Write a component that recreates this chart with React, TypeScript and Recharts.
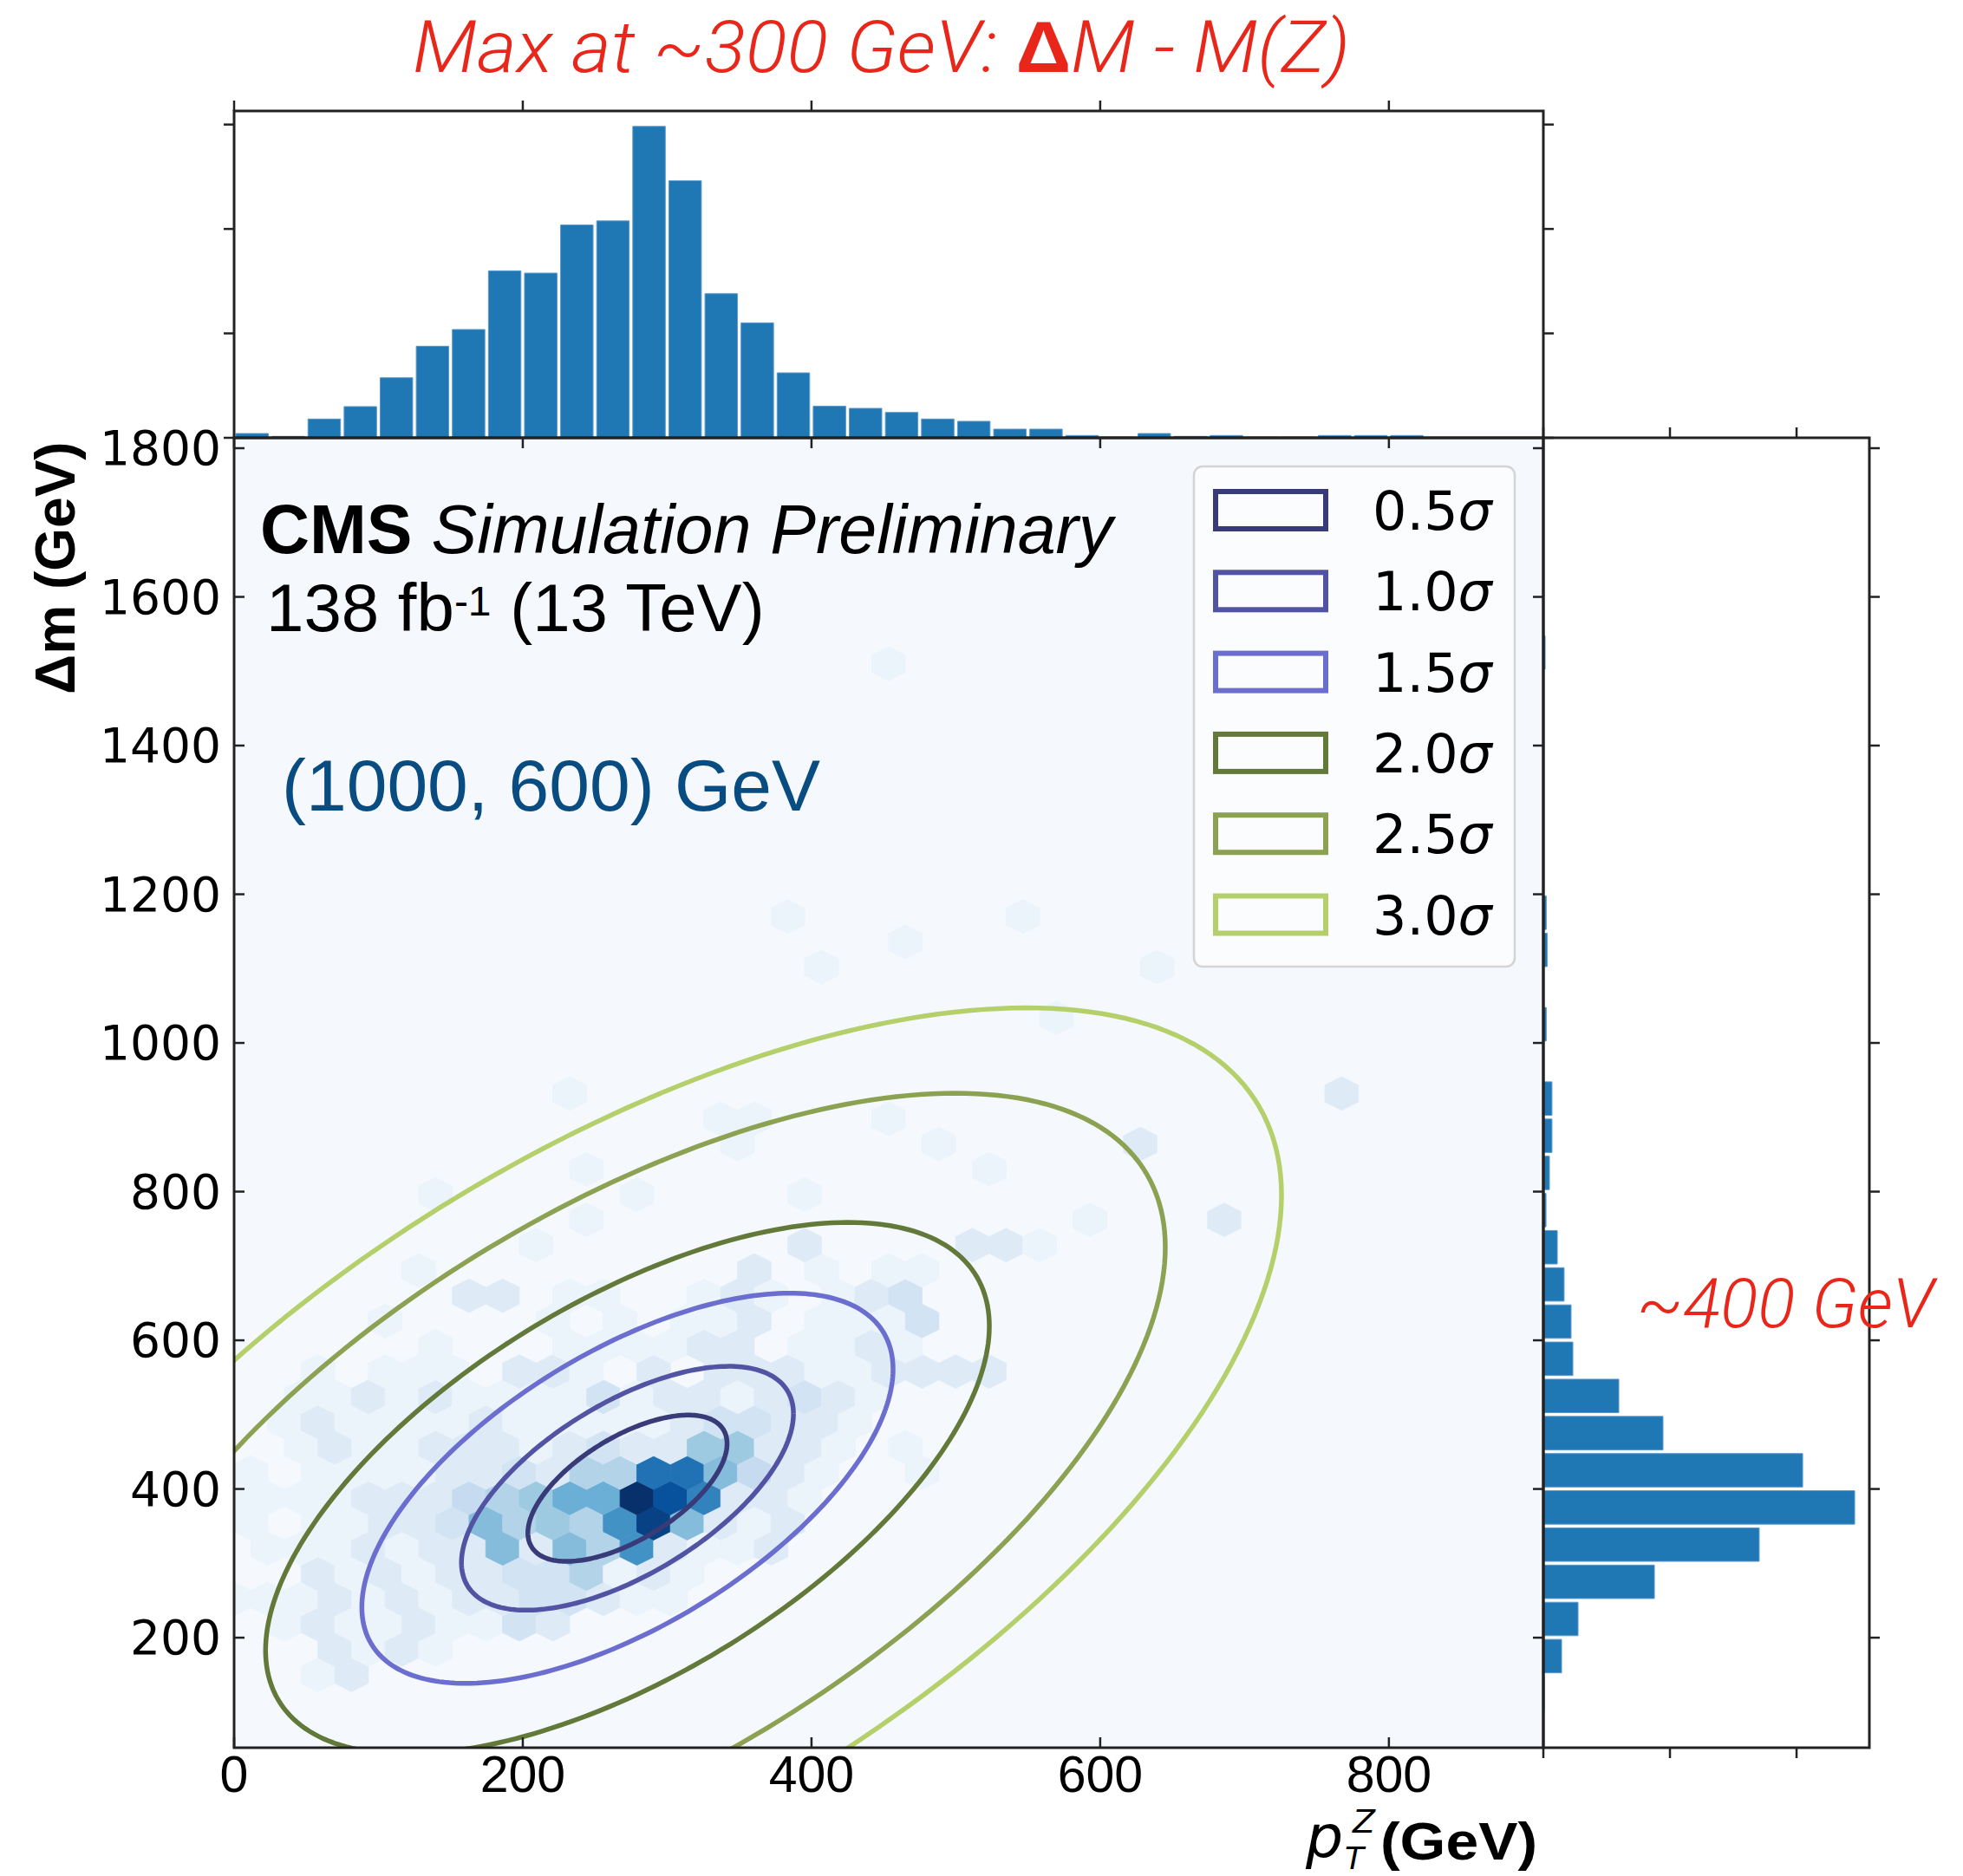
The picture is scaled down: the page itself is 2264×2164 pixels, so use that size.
import React from 'react';
import { ScatterChart, Scatter, BarChart, Bar, XAxis, YAxis, CartesianGrid } from 'recharts';

const W = 2264;
const H = 2164;

// joint axes: pT of the Z (x) and Δm (y), both in GeV
const X_MIN = 0;
const X_MAX = 907;
const X_TICKS = [0, 200, 400, 600, 800];
const Y_MIN = 52;
const Y_MAX = 1814;
const Y_TICKS = [200, 400, 600, 800, 1000, 1200, 1400, 1600, 1800];

// marginal pT histogram, 25 GeV bins starting at 0
const TOP_BIN = 25;
const TOP_COUNTS = [
  4.1, 1.4, 18, 29.9, 57.5, 87.7, 103.7, 159.9, 157.7, 203.9, 207.7, 298.2, 246.2, 138, 110.1, 62.2,
  30.2, 28.2, 24.3, 18, 15.8, 8.3, 8.3, 2.2, 0.6, 4.1, 1.4, 2.2, 0.6, 0.6, 2.2, 2.2, 2.2,
];
const TOP_MAX = 313;
const TOP_TICKS = [0, 100, 200, 300];

// marginal Δm histogram, 50 GeV bins starting at 100
const SIDE_BIN = 50;
const SIDE_START = 100;
const SIDE_COUNTS = [
  0.7, 14.4, 27.4, 87.7, 170.5, 245.9, 204.8, 94.5, 59.6, 23.3, 21.9, 16.4, 11, 2.1, 4.8, 6.8,
  6.8, 0, 2.3, 0, 3, 2.3, 0, 0, 0, 0, 0, 0, 1.4,
];
const SIDE_MAX = 257.5;
const SIDE_TICKS = [0, 100, 200];

// hexbin lattice (odd rows shifted by half a column) and filled cells: [row, col, count]
const HEX_X0 = 0;
const HEX_DX = 23.25;
const HEX_Y0 = 48;
const HEX_DY = 34;
const HEX_MAX = 16;
const HEX_CELLS: [number, number, number][] = [
  [3, 2, 1], [3, 3, 2],
  [4, 3, 2], [4, 4, 1], [4, 5, 2], [4, 6, 1],
  [5, 1, 1], [5, 2, 2], [5, 3, 1], [5, 4, 1], [5, 5, 2], [5, 6, 1], [5, 7, 1], [5, 8, 3], [5, 9, 2],
  [6, 0, 1], [6, 1, 1], [6, 2, 1], [6, 3, 2], [6, 4, 1], [6, 5, 2], [6, 6, 1], [6, 7, 2], [6, 8, 2],
  [6, 9, 3], [6, 10, 3], [6, 11, 2], [6, 12, 1], [6, 13, 1],
  [7, 2, 2], [7, 3, 1], [7, 4, 2], [7, 5, 1], [7, 6, 2], [7, 7, 2], [7, 8, 3], [7, 9, 3], [7, 10, 5],
  [7, 11, 1], [7, 12, 2], [7, 13, 1],
  [8, 1, 1], [8, 2, 1], [8, 3, 1], [8, 4, 2], [8, 5, 1], [8, 6, 2], [8, 7, 2], [8, 8, 7], [8, 9, 2],
  [8, 10, 7], [8, 11, 5], [8, 12, 10], [8, 13, 2], [8, 14, 1], [8, 15, 1], [8, 16, 2],
  [9, 0, 1], [9, 2, 1], [9, 3, 1], [9, 4, 2], [9, 5, 2], [9, 6, 3], [9, 7, 7], [9, 8, 5], [9, 9, 6],
  [9, 10, 5], [9, 11, 10], [9, 12, 15], [9, 13, 7], [9, 14, 2], [9, 15, 1], [9, 16, 2],
  [10, 0, 1], [10, 1, 1], [10, 2, 1], [10, 3, 1], [10, 4, 2], [10, 5, 2], [10, 6, 2], [10, 7, 4],
  [10, 8, 5], [10, 9, 6], [10, 10, 8], [10, 11, 8], [10, 12, 16], [10, 13, 14], [10, 14, 11],
  [10, 15, 2], [10, 16, 2], [10, 17, 1],
  [11, 0, 1], [11, 2, 1], [11, 3, 1], [11, 4, 1], [11, 5, 1], [11, 6, 2], [11, 7, 2], [11, 8, 3],
  [11, 9, 2], [11, 10, 5], [11, 11, 5], [11, 12, 12], [11, 13, 12], [11, 14, 7], [11, 15, 4],
  [11, 16, 2], [11, 17, 1], [11, 20, 1],
  [12, 2, 1], [12, 3, 2], [12, 4, 1], [12, 5, 1], [12, 6, 2], [12, 7, 2], [12, 8, 2], [12, 9, 1],
  [12, 10, 2], [12, 11, 3], [12, 12, 2], [12, 13, 2], [12, 14, 6], [12, 15, 6], [12, 16, 2],
  [12, 17, 2], [12, 18, 1], [12, 20, 1],
  [13, 1, 1], [13, 2, 2], [13, 3, 1], [13, 4, 1], [13, 5, 1], [13, 6, 1], [13, 7, 2], [13, 8, 1],
  [13, 9, 1], [13, 10, 1], [13, 11, 1], [13, 12, 1], [13, 13, 2], [13, 14, 3], [13, 15, 3],
  [13, 16, 2], [13, 17, 2], [13, 18, 1],
  [14, 2, 1], [14, 3, 1], [14, 4, 2], [14, 5, 1], [14, 6, 2], [14, 7, 1], [14, 8, 1], [14, 9, 1],
  [14, 10, 1], [14, 11, 3], [14, 12, 1], [14, 13, 2], [14, 14, 2], [14, 15, 1], [14, 16, 2],
  [14, 17, 3], [14, 18, 2], [14, 19, 1],
  [15, 2, 1], [15, 4, 1], [15, 5, 1], [15, 6, 1], [15, 8, 2], [15, 9, 2], [15, 10, 1], [15, 12, 2],
  [15, 14, 2], [15, 15, 2], [15, 16, 2], [15, 17, 1], [15, 18, 1], [15, 19, 2], [15, 20, 2],
  [15, 21, 2], [15, 22, 2],
  [16, 6, 1], [16, 10, 1], [16, 11, 1], [16, 12, 1], [16, 13, 1], [16, 14, 2], [16, 15, 2],
  [16, 17, 1], [16, 18, 1], [16, 19, 2], [16, 20, 1],
  [17, 4, 1], [17, 9, 1], [17, 11, 1], [17, 13, 1], [17, 14, 1], [17, 15, 2], [17, 17, 1],
  [17, 18, 1], [17, 19, 1], [17, 20, 3],
  [18, 7, 2], [18, 8, 2], [18, 10, 1], [18, 11, 1], [18, 14, 1], [18, 15, 2], [18, 16, 1],
  [18, 18, 1], [18, 19, 2], [18, 20, 3],
  [19, 5, 1], [19, 15, 2], [19, 17, 1], [19, 19, 1], [19, 20, 1],
  [20, 9, 1], [20, 17, 2], [20, 22, 2], [20, 23, 2], [20, 24, 1],
  [21, 10, 1], [21, 25, 1], [21, 29, 2],
  [22, 6, 1], [22, 12, 1], [22, 17, 1],
  [23, 10, 1], [23, 22, 1],
  [24, 15, 1], [24, 21, 1], [24, 27, 2],
  [25, 14, 1], [25, 15, 1], [25, 19, 1],
  [26, 10, 1], [26, 33, 2],
  [29, 24, 1],
  [31, 17, 1], [31, 27, 1],
  [32, 20, 1],
  [33, 16, 1], [33, 23, 1],
  [43, 19, 1],
];

// 2D gaussian fit and its contour levels
const FIT_MEAN = [272.5, 401];
const FIT_SIGMA = [115, 164];
const FIT_RHO = 0.61;
const CONTOUR_LABELS = ['0.5', '1.0', '1.5', '2.0', '2.5', '3.0'];
const CONTOUR_RADII = [0.6, 1.0, 1.6, 2.18, 3.24, 3.94];
const CONTOUR_COLORS = ['#393b79', '#5254a3', '#6b6ecf', '#637939', '#8ca252', '#b5cf6b'];

// panel boxes on the page
const MAIN = { left: 270, top: 505, width: 1510, height: 1511 };
const TOP = { left: 270, top: 128, width: 1510, height: 377 };
const SIDE = { left: 1780, top: 505, width: 376, height: 1511 };

const PX_X = MAIN.width / (X_MAX - X_MIN);
const PX_Y = MAIN.height / (Y_MAX - Y_MIN);

const AXIS_COLOR = '#222';
const AXIS_W = 3;
const TICK = 12;
const CONTOUR_W = 5.5;
const PLOT_BG = '#f5f9fe';
const HIST_BLUE = '#1f77b4';
const HIST_EDGE = '#5b98cc';
const RED = '#e8261a';
const SANS = "'Liberation Sans', Arial, Helvetica, sans-serif";
const DEJAVU = "'DejaVu Sans', sans-serif";

const BLUES = ['#f7fbff', '#deebf7', '#c6dbef', '#9ecae1', '#6baed6', '#4292c6', '#2171b5', '#08519c', '#08306b'];

function hexToRgb(h: string) {
  return [1, 3, 5].map((i) => parseInt(h.slice(i, i + 2), 16));
}

function blues(t: number) {
  const s = Math.max(0, Math.min(1, t)) * (BLUES.length - 1);
  const i = Math.min(Math.floor(s), BLUES.length - 2);
  const f = s - i;
  const a = hexToRgb(BLUES[i]);
  const b = hexToRgb(BLUES[i + 1]);
  const c = a.map((v, k) => Math.round(v + (b[k] - v) * f));
  return `rgb(${c[0]},${c[1]},${c[2]})`;
}

const topData = TOP_COUNTS.map((n, i) => ({ x: (i + 0.5) * TOP_BIN, n }));
const sideData = SIDE_COUNTS.map((n, i) => ({ y: SIDE_START + (i + 0.5) * SIDE_BIN, n }));
const hexData = HEX_CELLS.map(([r, c, n]) => ({
  x: HEX_X0 + (c + (r % 2 ? 0.5 : 0)) * HEX_DX,
  y: HEX_Y0 + r * HEX_DY,
  n,
}));

function contourPoints(r: number) {
  const [mx, my] = FIT_MEAN;
  const [sx, sy] = FIT_SIGMA;
  const k = Math.sqrt(1 - FIT_RHO * FIT_RHO);
  const pts = [];
  for (let i = 0; i <= 240; i++) {
    const t = (i / 240) * 2 * Math.PI;
    pts.push({
      x: mx + r * sx * Math.cos(t),
      y: my + r * sy * (FIT_RHO * Math.cos(t) + k * Math.sin(t)),
    });
  }
  return pts;
}
const contours = CONTOUR_RADII.map(contourPoints);

function renderHex(props: any) {
  const { cx, cy, payload } = props;
  const hw = (HEX_DX / 2) * PX_X;
  const v = ((2 * HEX_DY) / 3) * PX_Y;
  const e = v / 2;
  const pts = [[hw, -e], [hw, e], [0, v], [-hw, e], [-hw, -e], [0, -v]]
    .map(([dx, dy]) => `${cx + dx},${cy + dy}`)
    .join(' ');
  const c = blues(payload.n / HEX_MAX);
  return <polygon points={pts} fill={c} stroke={c} strokeWidth={0.8} />;
}

const renderNothing = () => <g />;

function MainXTick({ x, y, payload }: any) {
  return (
    <g>
      <line x1={x} x2={x} y1={y} y2={y - TICK} stroke={AXIS_COLOR} strokeWidth={2.5} />
      <line x1={x} x2={x} y1={y - MAIN.height} y2={y - MAIN.height + TICK} stroke={AXIS_COLOR} strokeWidth={2.5} />
      <text x={x} y={y + 51} textAnchor="middle" fontFamily={SANS} fontSize={59} fill="#000">
        {payload.value}
      </text>
    </g>
  );
}

function MainYTick({ x, y, payload }: any) {
  return (
    <g>
      <line x1={x} x2={x + TICK} y1={y} y2={y} stroke={AXIS_COLOR} strokeWidth={2.5} />
      <line x1={x + MAIN.width - TICK} x2={x + MAIN.width} y1={y} y2={y} stroke={AXIS_COLOR} strokeWidth={2.5} />
      <text x={x - 15} y={y} textAnchor="end" dominantBaseline="central" fontFamily={DEJAVU} fontSize={55} fill="#000">
        {payload.value}
      </text>
    </g>
  );
}

function TopXTick({ x, y }: any) {
  return <line x1={x} x2={x} y1={y} y2={y - TICK} stroke={AXIS_COLOR} strokeWidth={2.5} />;
}

function TopYTick({ x, y }: any) {
  return (
    <g>
      <line x1={x - TICK} x2={x} y1={y} y2={y} stroke={AXIS_COLOR} strokeWidth={2.5} />
      <line x1={x + TOP.width} x2={x + TOP.width + TICK} y1={y} y2={y} stroke={AXIS_COLOR} strokeWidth={2.5} />
    </g>
  );
}

function SideXTick({ x, y }: any) {
  return (
    <g>
      <line x1={x} x2={x} y1={y} y2={y + TICK} stroke={AXIS_COLOR} strokeWidth={2.5} />
      <line x1={x} x2={x} y1={y - SIDE.height} y2={y - SIDE.height - TICK} stroke={AXIS_COLOR} strokeWidth={2.5} />
    </g>
  );
}

function SideYTick({ x, y }: any) {
  return <line x1={x} x2={x + TICK} y1={y} y2={y} stroke={AXIS_COLOR} strokeWidth={2.5} />;
}

const layer: React.CSSProperties = { position: 'absolute', left: 0, top: 0 };

// axes are 1px thick, so each margin gives up that pixel on the side an axis sits on
function marginOf(
  b: { left: number; top: number; width: number; height: number },
  axes: { top?: number; left?: number; right?: number; bottom?: number },
) {
  return {
    top: b.top - (axes.top || 0),
    left: b.left - (axes.left || 0),
    right: W - b.left - b.width - (axes.right || 0),
    bottom: H - b.top - b.height - (axes.bottom || 0),
  };
}

const axisBase = {
  tickSize: 0,
  tickMargin: 0,
  tickLine: false,
  axisLine: false,
  interval: 0 as const,
  allowDataOverflow: true,
};

function MainPanel() {
  return (
    <div style={layer}>
      <ScatterChart width={W} height={H} margin={marginOf(MAIN, { left: 1, bottom: 1 })}>
        <CartesianGrid fill={PLOT_BG} horizontal={false} vertical={false} stroke="none" />
        <XAxis
          {...axisBase}
          type="number"
          dataKey="x"
          domain={[X_MIN, X_MAX]}
          ticks={X_TICKS}
          height={1}
          tick={(p: any) => <MainXTick {...p} />}
        />
        <YAxis
          {...axisBase}
          type="number"
          dataKey="y"
          domain={[Y_MIN, Y_MAX]}
          ticks={Y_TICKS}
          width={1}
          tick={(p: any) => <MainYTick {...p} />}
        />
        <Scatter data={hexData} shape={renderHex} isAnimationActive={false} />
        {contours.map((pts, i) => (
          <Scatter
            key={CONTOUR_LABELS[i]}
            data={pts}
            fill={CONTOUR_COLORS[i]}
            line={{ stroke: CONTOUR_COLORS[i], strokeWidth: CONTOUR_W }}
            shape={renderNothing}
            isAnimationActive={false}
          />
        ))}
      </ScatterChart>
    </div>
  );
}

function TopPanel() {
  return (
    <div style={layer}>
      <BarChart
        width={W}
        height={H}
        data={topData}
        margin={marginOf(TOP, { top: 1, left: 1 })}
        barGap={0}
        barCategoryGap={0}
      >
        <XAxis
          {...axisBase}
          type="number"
          dataKey="x"
          orientation="top"
          domain={[X_MIN, X_MAX]}
          ticks={X_TICKS}
          height={1}
          tick={(p: any) => <TopXTick {...p} />}
        />
        <YAxis
          {...axisBase}
          type="number"
          domain={[0, TOP_MAX]}
          ticks={TOP_TICKS}
          width={1}
          tick={(p: any) => <TopYTick {...p} />}
        />
        <Bar
          dataKey="n"
          fill={HIST_BLUE}
          stroke={HIST_EDGE}
          strokeWidth={1}
          barSize={TOP_BIN * PX_X}
          isAnimationActive={false}
        />
      </BarChart>
    </div>
  );
}

function SidePanel() {
  return (
    <div style={layer}>
      <BarChart
        layout="vertical"
        width={W}
        height={H}
        data={sideData}
        margin={marginOf(SIDE, { right: 1, bottom: 1 })}
        barGap={0}
        barCategoryGap={0}
      >
        <XAxis
          {...axisBase}
          type="number"
          domain={[0, SIDE_MAX]}
          ticks={SIDE_TICKS}
          height={1}
          tick={(p: any) => <SideXTick {...p} />}
        />
        <YAxis
          {...axisBase}
          type="number"
          dataKey="y"
          orientation="right"
          reversed
          domain={[Y_MIN, Y_MAX]}
          ticks={Y_TICKS}
          width={1}
          tick={(p: any) => <SideYTick {...p} />}
        />
        <Bar
          dataKey="n"
          fill={HIST_BLUE}
          stroke={HIST_EDGE}
          strokeWidth={1}
          barSize={SIDE_BIN * PX_Y}
          isAnimationActive={false}
        />
      </BarChart>
    </div>
  );
}

function Annotations() {
  const rowStep = 93.3;
  return (
    <svg width={W} height={H} style={layer}>
      {[TOP, MAIN, SIDE].map((b, i) => (
        <rect key={i} x={b.left} y={b.top} width={b.width} height={b.height} fill="none" stroke={AXIS_COLOR} strokeWidth={AXIS_W} />
      ))}

      <text
        x={476}
        y={83}
        fill={RED}
        fontFamily={`Roboto, ${SANS}`}
        fontWeight={300}
        fontStyle="italic"
        fontSize={84}
        textLength={1081}
        lengthAdjust="spacingAndGlyphs"
      >
        Max at ~300 GeV:{' '}
        <tspan fontWeight={700} fontStyle="normal" fontFamily={SANS}>Δ</tspan>M - M(Z)
      </text>

      <text x={1888} y={1531} fill={RED} fontFamily={`Roboto, ${SANS}`} fontWeight={300} fontStyle="italic" fontSize={80}>
        ~400 GeV
      </text>

      <text x={300} y={638} fontFamily={SANS} fontSize={79} fill="#000">
        <tspan fontWeight="bold">CMS </tspan>
        <tspan fontStyle="italic">Simulation Preliminary</tspan>
      </text>
      <text x={307} y={728} fontFamily={SANS} fontSize={78} fill="#000">
        138 fb<tspan fontSize={48} dy={-18}>-1</tspan>
        <tspan dy={18}> (13 TeV)</tspan>
      </text>
      <text x={325} y={935} fontFamily={SANS} fontSize={84} fill="#084c81">
        (1000, 600) GeV
      </text>

      <rect x={1377} y={538} width={370} height={577} rx={10} fill="#fbfcfe" stroke="#d4d4d4" strokeWidth={2.5} />
      {CONTOUR_LABELS.map((lab, i) => (
        <g key={lab}>
          <rect
            x={1402}
            y={567 + i * rowStep}
            width={127}
            height={43}
            fill="none"
            stroke={CONTOUR_COLORS[i]}
            strokeWidth={6}
          />
          <text x={1583} y={611 + i * rowStep} fontFamily={DEJAVU} fontSize={62} fill="#000">
            {lab}
            <tspan fontStyle="italic">σ</tspan>
          </text>
        </g>
      ))}

      <text
        transform="translate(86, 655) rotate(-90)"
        textAnchor="middle"
        fontFamily={SANS}
        fontWeight="bold"
        fontSize={64}
        fill="#000"
      >
        Δm (GeV)
      </text>

      <text x={1506} y={2142} fontFamily={DEJAVU} fontStyle="italic" fontSize={68} fill="#000">p</text>
      <text x={1560} y={2114} fontFamily={DEJAVU} fontStyle="italic" fontSize={38} fill="#000">Z</text>
      <text x={1551} y={2156} fontFamily={DEJAVU} fontStyle="italic" fontSize={36} fill="#000">T</text>
      <text
        x={1592}
        y={2145}
        fontFamily={SANS}
        fontWeight="bold"
        fontSize={62}
        textLength={181}
        lengthAdjust="spacingAndGlyphs"
        fill="#000"
      >
        (GeV)
      </text>
    </svg>
  );
}

export default function App() {
  return (
    <div style={{ position: 'absolute', left: 0, top: 0, width: W, height: H, background: '#fff', overflow: 'hidden' }}>
      <MainPanel />
      <TopPanel />
      <SidePanel />
      <Annotations />
    </div>
  );
}
